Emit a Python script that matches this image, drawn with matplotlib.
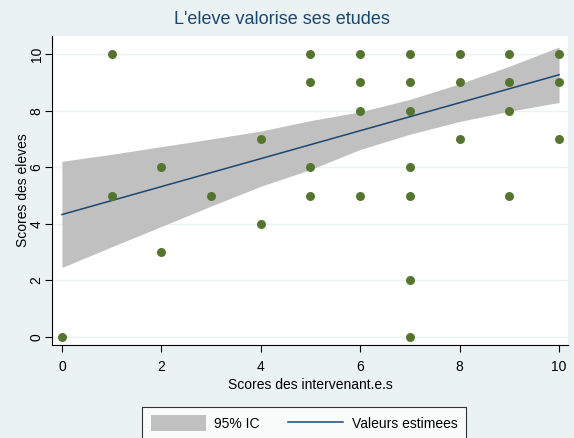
import matplotlib
matplotlib.use("Agg")
import matplotlib.pyplot as plt
from matplotlib.patches import Patch
from matplotlib.lines import Line2D

# Data
score_x = [0, 1, 1, 2, 2, 3, 4, 4, 5, 5, 5, 5, 6, 6, 6, 6,
           7, 7, 7, 7, 7, 7, 7, 8, 8, 8, 9, 9, 9, 9, 10, 10, 10]
score_y = [0, 10, 5, 6, 3, 5, 7, 4, 10, 9, 6, 5, 10, 9, 8, 5,
           10, 9, 8, 6, 5, 2, 0, 10, 9, 7, 10, 9, 8, 5, 10, 9, 7]

fit_x = [0, 10]
fit_y = [4.33, 9.27]

ci_x = [0, 1, 2, 3, 4, 5, 6, 7, 8, 9, 10]
ci_lo = [2.46, 3.19, 3.91, 4.63, 5.33, 5.92, 6.63, 7.17, 7.62, 7.98, 8.29]
ci_hi = [6.21, 6.46, 6.73, 7.00, 7.28, 7.65, 7.96, 8.40, 8.95, 9.57, 10.25]

xticks = [0, 2, 4, 6, 8, 10]
yticks = [0, 2, 4, 6, 8, 10]

BG = "#EAF2F3"
NAVY = "#1A476F"
GREEN = "#55752F"

plt.rcParams['font.family'] = ['Liberation Sans', 'DejaVu Sans']

W, H = 574, 438
fig = plt.figure(figsize=(W / 100, H / 100), dpi=100, facecolor=BG)
ax = fig.add_axes([52 / W, 1 - 345 / H, (568 - 52) / W, (345 - 36) / H])
ax.set_facecolor("white")

ax.fill_between(ci_x, ci_lo, ci_hi, color="#C0C0C0", linewidth=0, zorder=2)
ax.plot(fit_x, fit_y, color=NAVY, linewidth=1.1, zorder=3)
ax.scatter(score_x, score_y, s=42, color=GREEN, linewidths=0, zorder=4)

ax.set_xlim(-0.2, 10.18)
ax.set_ylim(-0.28, 10.64)
ax.set_xticks(xticks)
ax.set_yticks(yticks)
ax.set_yticklabels([str(v) for v in yticks], rotation=90, va="center")
ax.grid(axis="y", color=BG, linewidth=1.0, zorder=0)
ax.set_axisbelow(True)
for s in ["top", "right"]:
    ax.spines[s].set_visible(False)
for s in ["left", "bottom"]:
    ax.spines[s].set_color("black")
    ax.spines[s].set_linewidth(0.8)
ax.tick_params(axis="both", direction="out", length=5, width=0.8,
               labelsize=10, colors="black")
ax.tick_params(axis="x", pad=6)
ax.tick_params(axis="y", pad=1)

ax.set_xlabel("Scores des intervenant.e.s", fontsize=10, labelpad=3)
ax.set_ylabel("Scores des eleves", fontsize=10, labelpad=0)
fig.text(282 / W, 1 - 20 / H, "L'eleve valorise ses etudes", ha="center",
         va="center", fontsize=13, color=NAVY)

handles = [Patch(facecolor="#C0C0C0", edgecolor="none", label="95% IC"),
           Line2D([0], [0], color=NAVY, linewidth=1.1, label="Valeurs estimees")]
leg = fig.legend(handles=handles, loc="upper center", ncol=2,
                 bbox_to_anchor=(304 / W, 1 - 400 / H), fontsize=10,
                 frameon=True, fancybox=False, handlelength=4.0,
                 handleheight=1.4, columnspacing=2.0, borderpad=0.6,
                 handletextpad=0.6)
leg.get_frame().set_edgecolor("black")
leg.get_frame().set_linewidth(0.8)

fig.savefig("out.png", dpi=100, facecolor=BG)
